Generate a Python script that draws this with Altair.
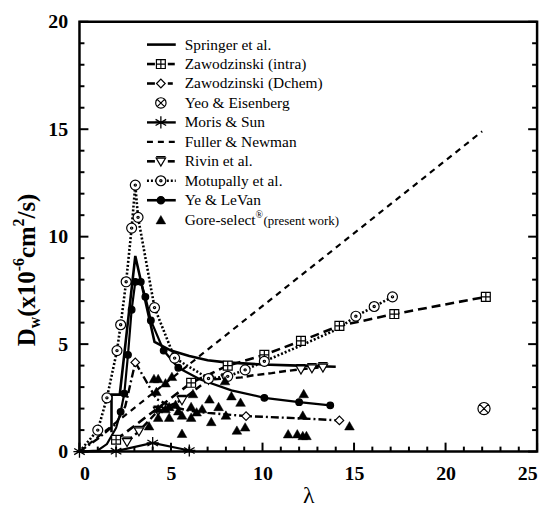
import altair as alt
import pandas as pd

# ---------------- data ----------------
springer_x = [1.75, 1.75, 2.2, 3.05, 4.1, 5.0, 6.0, 7.0, 8.0, 10.0, 12.0, 14.0]
springer_y = [0.9, 2.65, 2.65, 9.1, 5.1, 4.7, 4.45, 4.25, 4.15, 4.05, 4.0, 3.95]

zint_x = [2.0, 6.1, 8.1, 10.1, 12.1, 14.2, 17.2, 22.2]
zint_y = [0.55, 3.2, 4.0, 4.5, 5.15, 5.85, 6.4, 7.2]

zdch_x = [0, 1.0, 2.0, 2.5, 3.05, 4.2, 5.0, 6.0, 7.0, 9.1, 12.0, 14.2]
zdch_y = [0, 0.6, 1.3, 2.1, 4.15, 2.45, 2.1, 1.9, 1.8, 1.65, 1.55, 1.45]
zdch_mx = [3.05, 9.1, 14.2]
zdch_my = [4.15, 1.65, 1.45]

yeo_x = [22.1]
yeo_y = [2.0]

moris_x = [0, 2, 4, 6]
moris_y = [0, 0.02, 0.4, 0.05]

fuller_x = [0, 22]
fuller_y = [0, 14.9]

rivin_x = [2.6, 3.25, 4.3, 5.6, 7.05, 8.0, 8.85, 9.5, 10.5, 11.3, 12.1, 12.7, 13.3]
rivin_y = [0.45, 0.95, 1.9, 2.4, 3.35, 3.4, 3.45, 3.55, 3.65, 3.75, 3.83, 3.88, 3.92]

motu_x = [0, 1.0, 1.5, 2.05, 2.25, 2.55, 2.85, 3.05, 3.2, 4.1, 5.2, 7.05, 8.1, 9.05, 10.1, 12.0, 14.1, 15.1, 16.1, 17.1]
motu_y = [0, 1.0, 2.5, 4.7, 5.9, 7.9, 10.4, 12.4, 10.9, 6.7, 4.35, 3.4, 3.5, 3.8, 4.2, 4.9, 5.7, 6.3, 6.75, 7.2]
motu_mx = [1.0, 1.5, 2.05, 2.25, 2.55, 2.85, 3.05, 3.2, 4.1, 5.2, 7.05, 8.1, 9.05, 10.1, 15.1, 16.1, 17.1]
motu_my = [1.0, 2.5, 4.7, 5.9, 7.9, 10.4, 12.4, 10.9, 6.7, 4.35, 3.4, 3.5, 3.8, 4.2, 6.3, 6.75, 7.2]

ye_x = [0, 1.0, 1.5, 2.0, 2.25, 2.45, 2.65, 2.85, 3.05, 3.35, 3.6, 3.9, 4.6, 5.4, 6.6, 8.3, 10.1, 12.0, 13.7]
ye_y = [0, 0.05, 0.35, 1.1, 1.85, 2.7, 4.5, 6.6, 7.9, 7.9, 7.2, 6.1, 4.7, 3.9, 3.35, 2.85, 2.5, 2.3, 2.15]
ye_mx = [2.25, 2.45, 2.65, 2.85, 3.05, 3.35, 3.6, 3.9, 4.6, 5.4, 10.1, 12.0, 13.7]
ye_my = [1.85, 2.7, 4.5, 6.6, 7.9, 7.9, 7.2, 6.1, 4.7, 3.9, 2.5, 2.3, 2.15]

gore_x = [3.8, 4.07, 4.3, 4.2, 4.3, 4.3, 4.7, 4.7, 4.9, 4.9, 5.05, 5.25, 5.4, 5.6, 5.6,
          6.1, 6.1, 6.2, 6.4, 6.7, 7.1, 7.2, 7.6, 7.95, 8.0, 8.3, 8.8, 8.6, 9.05,
          12.25, 12.2, 11.4, 11.9, 12.2, 12.4, 14.75]
gore_y = [1.2, 3.4, 3.4, 2.8, 2.0, 1.6, 3.2, 2.0, 2.1, 1.6, 3.5, 2.2, 1.9, 1.7, 0.85,
          2.1, 1.6, 2.7, 1.85, 2.0, 2.45, 1.4, 2.1, 3.3, 1.7, 2.6, 2.3, 1.0, 1.15,
          2.7, 1.7, 0.83, 0.83, 0.75, 0.75, 1.2]

legend_labels = ["Springer et al.", "Zawodzinski (intra)", "Zawodzinski (Dchem)",
                 "Yeo & Eisenberg", "Moris & Sun", "Fuller & Newman", "Rivin et al.",
                 "Motupally et al.", "Ye & LeVan"]

x_ticks = list(range(0, 26))
y_ticks = list(range(0, 21))
x_labels = [0, 5, 10, 15, 20, 25]
y_labels = [0, 5, 10, 15, 20]

# ---------------- styling ----------------
W, H = 461, 433
SERIF = "Liberation Serif, Times New Roman, serif"
xs = alt.Scale(domain=[0, 25], nice=False, zero=False)
ys = alt.Scale(domain=[0, 20], nice=False, zero=False)

axis_x = alt.Axis(values=x_labels, format="d", grid=False, ticks=False, domain=False,
                  labelFont=SERIF, labelFontSize=20, labelFontWeight="bold",
                  labelColor="black", labelPadding=12, title="λ", titleFont=SERIF,
                  titleFontSize=24, titleFontWeight="normal", titleColor="black",
                  titlePadding=0)
axis_y = alt.Axis(values=y_labels, format="d", grid=False, ticks=False, domain=False,
                  labelFont=SERIF, labelFontSize=20, labelFontWeight="bold",
                  labelColor="black", labelPadding=12, title=None)

BOXPLUS = "M-1,-1L1,-1L1,1L-1,1Z M0,-1L0,1 M-1,0L1,0"
CIRCX = "M-1,0A1,1 0 1,0 1,0A1,1 0 1,0 -1,0Z M-0.7,-0.7L0.7,0.7 M-0.7,0.7L0.7,-0.7"
CIRCDOT = "M-1,0A1,1 0 1,0 1,0A1,1 0 1,0 -1,0Z M-0.22,0A0.22,0.22 0 1,0 0.22,0A0.22,0.22 0 1,0 -0.22,0Z"
ASTER = "M0,-1L0,1 M-0.87,-0.5L0.87,0.5 M-0.87,0.5L0.87,-0.5 M-1,0L1,0"
RIVIN = "M-1,-1L1,-1 M-1,-0.7L1,-0.7L0,1Z"

one = pd.DataFrame({"k": [0]})

X = lambda f: alt.X(f, scale=xs, axis=axis_x)
Y = lambda f: alt.Y(f, scale=ys, axis=axis_y)


def line_layer(xv, yv, width, dash=None):
    df = pd.DataFrame({"x": xv, "y": yv, "o": list(range(len(xv)))})
    kw = dict(color="black", strokeWidth=width)
    if dash:
        kw["strokeDash"] = dash
    return alt.Chart(df).mark_line(**kw).encode(x=X("x:Q"), y=Y("y:Q"), order="o:Q")


def point_layer(xv, yv, shape, size, fill="white", sw=1.2):
    df = pd.DataFrame({"x": xv, "y": yv})
    return alt.Chart(df).mark_point(shape=shape, size=size, fill=fill, stroke="black",
                                    strokeWidth=sw, opacity=1, filled=False).encode(
        x=X("x:Q"), y=Y("y:Q"))


layers = []
layers.append(line_layer(fuller_x, fuller_y, 2.2, [6, 5]))
layers.append(line_layer(springer_x, springer_y, 2.6))
layers.append(line_layer(zint_x, zint_y, 2.6, [9, 5]))
layers.append(line_layer(zdch_x, zdch_y, 2.4, [8, 3, 2, 3]))
layers.append(line_layer(moris_x, moris_y, 2.2))
layers.append(line_layer(rivin_x, rivin_y, 2.4, [7, 4]))
layers.append(line_layer(motu_x, motu_y, 2.6, [2, 2]))
layers.append(line_layer(ye_x, ye_y, 2.2))

# markers
layers.append(point_layer(zint_x, zint_y, BOXPLUS, 80))
layers.append(point_layer(zdch_mx, zdch_my, "diamond", 75))
layers.append(point_layer(yeo_x, yeo_y, CIRCX, 150))
layers.append(point_layer(moris_x, moris_y, ASTER, 150, fill="black", sw=1.3))
layers.append(point_layer(rivin_x[:6] + rivin_x[10:], rivin_y[:6] + rivin_y[10:], RIVIN, 90))
layers.append(point_layer(motu_mx, motu_my, CIRCDOT, 100))
layers.append(point_layer(ye_mx, ye_my, "circle", 45, fill="black"))
layers.append(point_layer(gore_x, gore_y, "triangle-up", 95, fill="black", sw=0.5))

# inward ticks
xt = pd.DataFrame({"t": x_ticks})
xt["major"] = xt["t"] % 5 == 0
yt = pd.DataFrame({"t": y_ticks})
yt["major"] = yt["t"] % 5 == 0
for major, ln in [(True, 9), (False, 5)]:
    dfx = xt[xt["major"] == major]
    dfy = yt[yt["major"] == major]
    layers.append(alt.Chart(dfx).mark_rule(color="black", strokeWidth=2).encode(
        x=X("t:Q"), y=alt.value(H), y2=alt.value(H - ln)))
    layers.append(alt.Chart(dfy).mark_rule(color="black", strokeWidth=2).encode(
        y=Y("t:Q"), x=alt.value(0), x2=alt.value(ln)))
    layers.append(alt.Chart(dfy).mark_rule(color="black", strokeWidth=2).encode(
        y=Y("t:Q"), x=alt.value(W), x2=alt.value(W - ln)))

# ---------------- legend (drawn inside the plot) ----------------
L_X1, L_X2, L_SYM, L_TXT = 68, 97, 82, 106
row_y = [23 + 19.6 * i for i in range(10)]


def leg_rule(x1, x2, y, width, dash=None):
    kw = dict(color="black", strokeWidth=width)
    if dash:
        kw["strokeDash"] = dash
    return alt.Chart(one).mark_rule(**kw).encode(
        x=alt.value(x1), x2=alt.value(x2), y=alt.value(y))


def leg_sym(y, shape, size, fill="white", sw=1.2):
    return alt.Chart(one).mark_point(shape=shape, size=size, fill=fill, stroke="black",
                                     strokeWidth=sw, opacity=1, filled=False).encode(
        x=alt.value(L_SYM), y=alt.value(y))


def leg_text(x, y, txt, size=15.5, weight="normal", angle=None, align="left",
             baseline="middle"):
    kw = dict(font=SERIF, fontSize=size, fontWeight=weight, color="black",
              align=align, baseline=baseline)
    if angle is not None:
        kw["angle"] = angle
    return alt.Chart(one).mark_text(text=txt, **kw).encode(
        x=alt.value(x), y=alt.value(y))


layers.append(leg_rule(L_X1, L_X2, row_y[0], 2.6))
layers.append(leg_rule(L_X1, L_X1 + 8, row_y[1], 2.6))
layers.append(leg_rule(L_SYM + 7, L_SYM + 14, row_y[1], 2.6))
layers.append(leg_sym(row_y[1], BOXPLUS, 80))
layers.append(leg_rule(L_X1, L_X1 + 8, row_y[2], 2.6))
layers.append(leg_rule(L_SYM + 7, L_SYM + 14, row_y[2], 2.6, [5, 3]))
layers.append(leg_sym(row_y[2], "diamond", 75))
layers.append(leg_sym(row_y[3], CIRCX, 110))
layers.append(leg_rule(L_X1, L_X2, row_y[4], 2.4))
layers.append(leg_sym(row_y[4], ASTER, 150, fill="black", sw=1.3))
layers.append(leg_rule(L_X1, L_X2 + 2, row_y[5], 2.2, [6, 5]))
layers.append(leg_rule(L_X1, L_X1 + 8, row_y[6], 2.6))
layers.append(leg_rule(L_SYM + 7, L_SYM + 14, row_y[6], 2.6))
layers.append(leg_sym(row_y[6], RIVIN, 90))
layers.append(leg_rule(L_X1, L_X2, row_y[7], 2.6, [2, 2]))
layers.append(leg_sym(row_y[7], CIRCDOT, 100))
layers.append(leg_rule(L_X1, L_X2, row_y[8], 2.6))
layers.append(leg_sym(row_y[8], "circle", 55, fill="black"))
layers.append(leg_sym(row_y[9], "triangle-up", 95, fill="black", sw=0.5))

for i, lab in enumerate(legend_labels):
    layers.append(leg_text(L_TXT, row_y[i], lab))

REG = {"G": .722, "o": .5, "r": .333, "e": .444, "-": .333, "s": .389, "l": .278,
       "c": .444, "t": .278}
gw = sum(REG[c] for c in "Gore-select") * 15.5
layers.append(leg_text(L_TXT, row_y[9], "Gore-select"))
layers.append(leg_text(L_TXT + gw, row_y[9] - 5, "®", size=10))
layers.append(leg_text(L_TXT + gw + 8, row_y[9] + 1, "(present work)", size=13))

# ---------------- y axis title, composed of text pieces ----------------
BOLD = {"D": .722, "w": .722, "(": .333, "x": .5, "1": .5, "0": .5, "-": .333,
        "6": .5, "c": .444, "m": .833, "2": .5, "/": .278, "s": .389, ")": .333}
pieces = [("D", 25, 0), ("w", 16, 5), ("(x10", 25, 0), ("-6", 16, -11),
          ("cm", 25, 0), ("2", 16, -11), ("/s)", 25, 0)]
widths = [sum(BOLD[c] for c in t) * s for t, s, _ in pieces]
total = sum(widths)
cur = 250 + total / 2
base_x = -45
for (t, s, sh), w in zip(pieces, widths):
    layers.append(leg_text(base_x + sh, cur, t, size=s, weight="bold", angle=270,
                           baseline="alphabetic"))
    cur -= w

chart = alt.layer(*layers).properties(
    width=W, height=H,
    autosize=alt.AutoSizeParams(type="none"),
    padding={"left": 72, "top": 12, "right": 12, "bottom": 58},
).configure_view(stroke="black", strokeWidth=2.5).configure_axis(grid=False)

chart.save("out.html", embed_options={"renderer": "svg", "actions": False})
